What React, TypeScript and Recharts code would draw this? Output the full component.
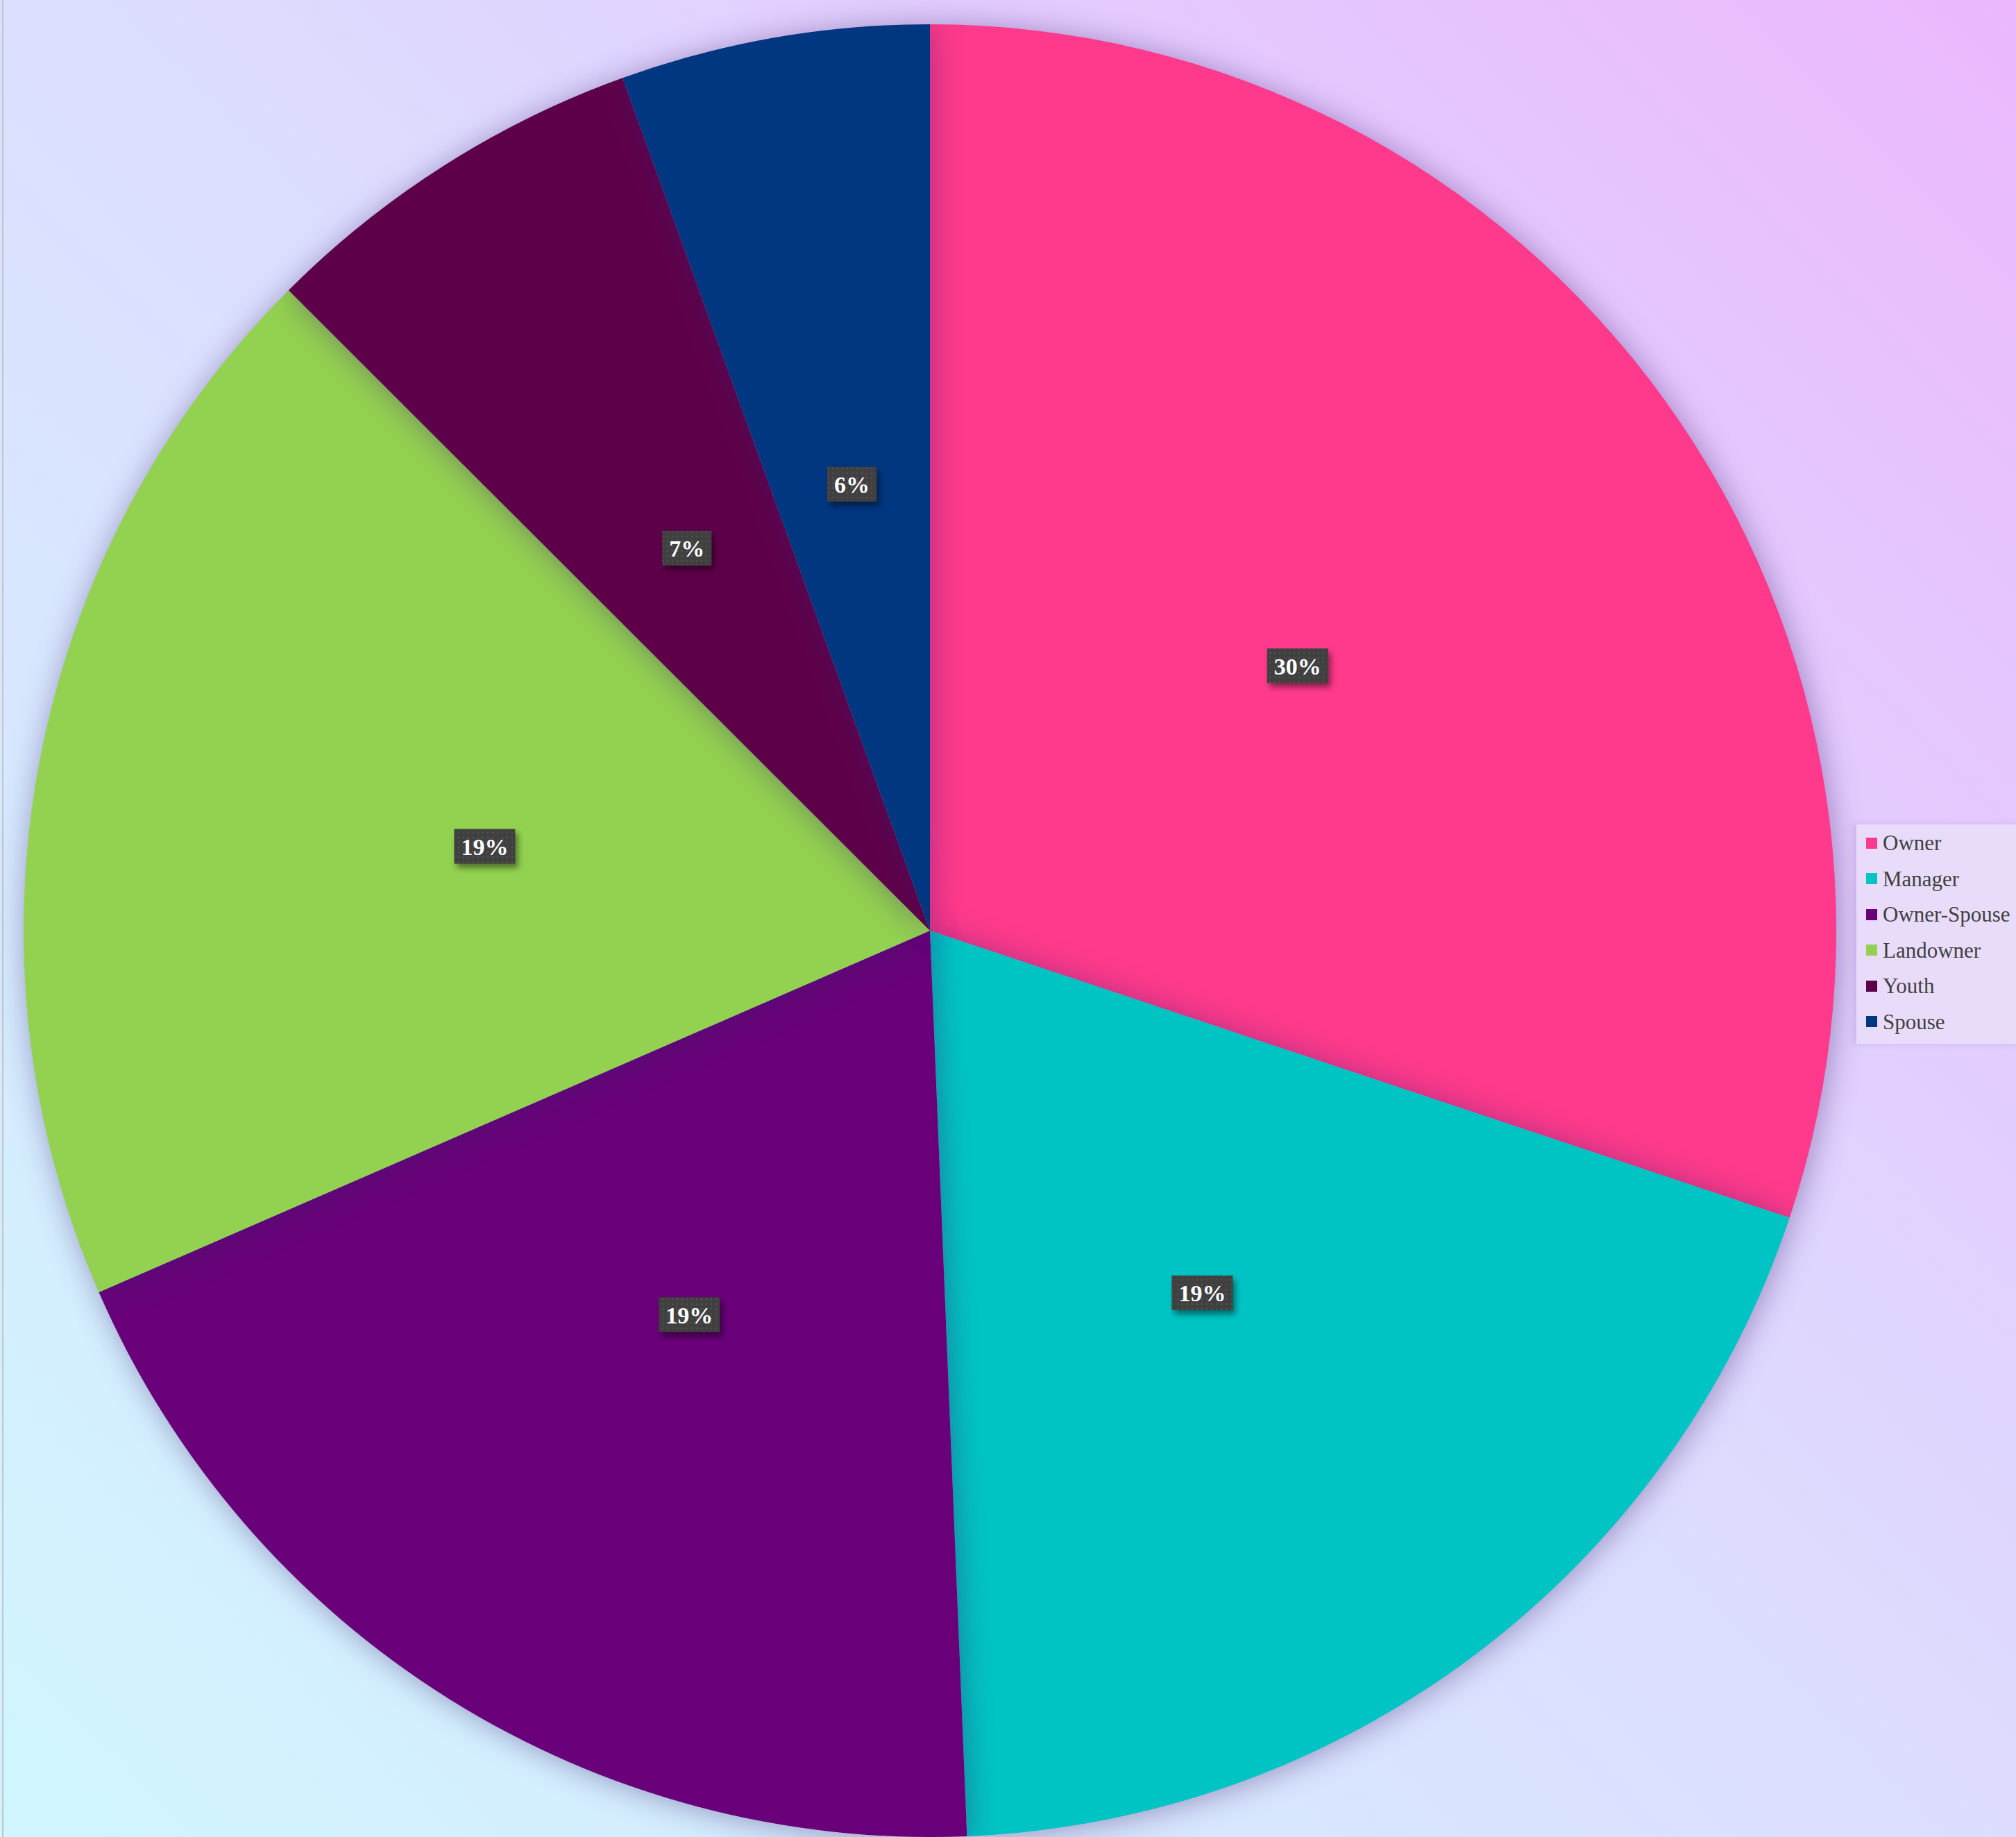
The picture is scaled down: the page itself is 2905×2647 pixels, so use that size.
import { PieChart, Pie, Cell, Legend } from "recharts";

const roles = ["Owner", "Manager", "Owner-Spouse", "Landowner", "Youth", "Spouse"];
const shares = [30.1, 19.2, 19.1, 19.0, 7.0, 5.5];
const colors = ["#ff3a8c", "#00c4c4", "#690079", "#93d150", "#5e0049", "#003780"];

const data = roles.map((name, i) => ({ name, value: shares[i] }));

const RAD = Math.PI / 180;

function PctLabel(props: any) {
  const { cx, cy, midAngle, outerRadius, percent, index } = props;
  const r = outerRadius * 0.5;
  const x = cx + r * Math.cos(-midAngle * RAD);
  const y = cy + r * Math.sin(-midAngle * RAD);
  const num = String(Math.round(percent * 100));
  const text = `${num}%`;
  // digit ~17px + percent sign ~34px at 34px bold serif, plus padding
  const w = num.length * 17 + 34 + 20;
  const h = 50;
  return (
    <g>
      {index === 0 && (
        <defs>
          <pattern id="lblDots" width="7" height="7" patternUnits="userSpaceOnUse">
            <rect width="7" height="7" fill="#404040" />
            <rect x="2" y="2" width="2" height="2" fill="#555555" />
          </pattern>
        </defs>
      )}
      <rect
        x={x - w / 2}
        y={y - h / 2}
        width={w}
        height={h}
        fill="url(#lblDots)"
        style={{ filter: "drop-shadow(4px 6px 4px rgba(0,0,0,0.45))" }}
      />
      <text
        x={x}
        y={y + 1}
        textAnchor="middle"
        dominantBaseline="central"
        fill="#ffffff"
        fontFamily="'Liberation Serif', 'Times New Roman', serif"
        fontWeight="bold"
        fontSize={34}
      >
        {text}
      </text>
    </g>
  );
}

function LegendBox({ payload }: any) {
  const items = [...(payload || [])].sort(
    (a: any, b: any) => roles.indexOf(a.value) - roles.indexOf(b.value)
  );
  return (
    <div
      style={{
        background: "#e9dcfa",
        boxShadow: "-4px 0 8px rgba(150,120,200,0.25)",
        padding: "1px 0 6px 14px",
        fontFamily: "'Liberation Serif', 'Times New Roman', serif",
        fontSize: 31,
        color: "#404040",
      }}
    >
      {items.map((p: any) => (
        <div key={p.value} style={{ display: "flex", alignItems: "center", height: 51.5 }}>
          <span style={{ width: 16, height: 16, background: p.color, marginRight: 8, flex: "none" }} />
          <span style={{ whiteSpace: "nowrap", lineHeight: 1 }}>{p.value}</span>
        </div>
      ))}
    </div>
  );
}

export default function App() {
  return (
    <div
      style={{
        position: "absolute",
        left: 0,
        top: 0,
        width: 2905,
        height: 2647,
        overflow: "hidden",
        background: "linear-gradient(45deg, #d0f6fe 0%, #dcdefe 50%, #ebb8fd 100%)",
      }}
    >
      <div style={{ position: "absolute", left: 3, top: 0, width: 2, height: 2647, background: "#c4c4cc" }} />
      <PieChart width={2905} height={2647} style={{ position: "absolute", left: 0, top: 0 }}>
        <Pie
          data={data}
          dataKey="value"
          nameKey="name"
          cx={1335}
          cy={1336}
          outerRadius={1306}
          startAngle={90}
          endAngle={-270}
          stroke="none"
          label={PctLabel}
          labelLine={false}
          isAnimationActive={false}
          style={{ filter: "drop-shadow(3px 3px 22px rgba(60,30,110,0.42))" }}
        >
          {data.map((d, i) => (
            <Cell key={d.name} fill={colors[i]} />
          ))}
        </Pie>
        <Legend
          layout="vertical"
          align="right"
          verticalAlign="top"
          content={LegendBox}
          wrapperStyle={{ left: 2675, top: 1188, width: 240, right: "auto" }}
        />
      </PieChart>
    </div>
  );
}
